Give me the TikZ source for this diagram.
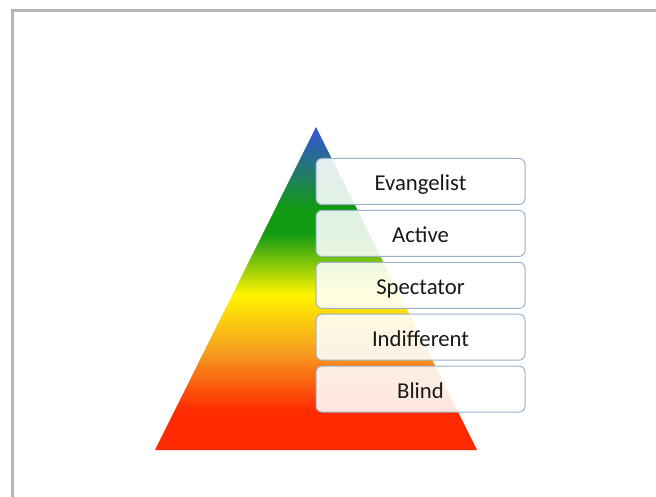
\documentclass[tikz,border=0pt]{standalone}
\usepackage{fontspec}
\setmainfont{Carlito}
\usepackage{tikz}
\usetikzlibrary{calc,positioning}

\definecolor{pyrred}{HTML}{FF2A00}
\definecolor{pyrorange}{HTML}{F59A20}
\definecolor{pyryellow}{HTML}{FFF500}
\definecolor{pyrgreen}{HTML}{129A14}
\definecolor{pyrblue}{HTML}{3552DA}
\definecolor{boxline}{HTML}{9DB2C9}
\definecolor{frame}{HTML}{B4B4B4}
\pgfdeclareverticalshading{pyramidshade}{100bp}{color(0bp)=(pyrred); color(31bp)=(pyrred); color(40bp)=(pyrorange); color(49bp)=(pyryellow); color(58.5bp)=(pyrgreen); color(62.5bp)=(pyrgreen); color(75bp)=(pyrblue); color(100bp)=(pyrblue)}

\tikzset{
  level/.style={draw=boxline,line width=1pt,fill=white,fill opacity=0.88,text opacity=1,
    rounded corners=6pt,minimum width=209pt,minimum height=46pt,inner sep=0pt,
    text height=18.6pt,text depth=0pt,
    text=black!90,font=\fontsize{22.7}{26}\selectfont}
}

\begin{document}
\begin{tikzpicture}[x=1pt,y=-1pt]
\useasboundingbox (0,0) rectangle (656,497);
\draw[frame,line width=3pt] (12,500) -- (12,10.5) -- (660,10.5);
\coordinate (top) at (316,127); \coordinate (bl) at (155,450); \coordinate (br) at (477,450);
% pyramid
\shade[shading=pyramidshade] (top)--(br)--(bl)--cycle;
% levels
\foreach \name/\txt [count=\i from 0] in {evangelist/Evangelist,active/Active,spectator/Spectator,indifferent/Indifferent,blind/Blind}
  \node[level] (\name) at (420.5,181.5+51.9*\i) {\txt};
\end{tikzpicture}
\end{document}
